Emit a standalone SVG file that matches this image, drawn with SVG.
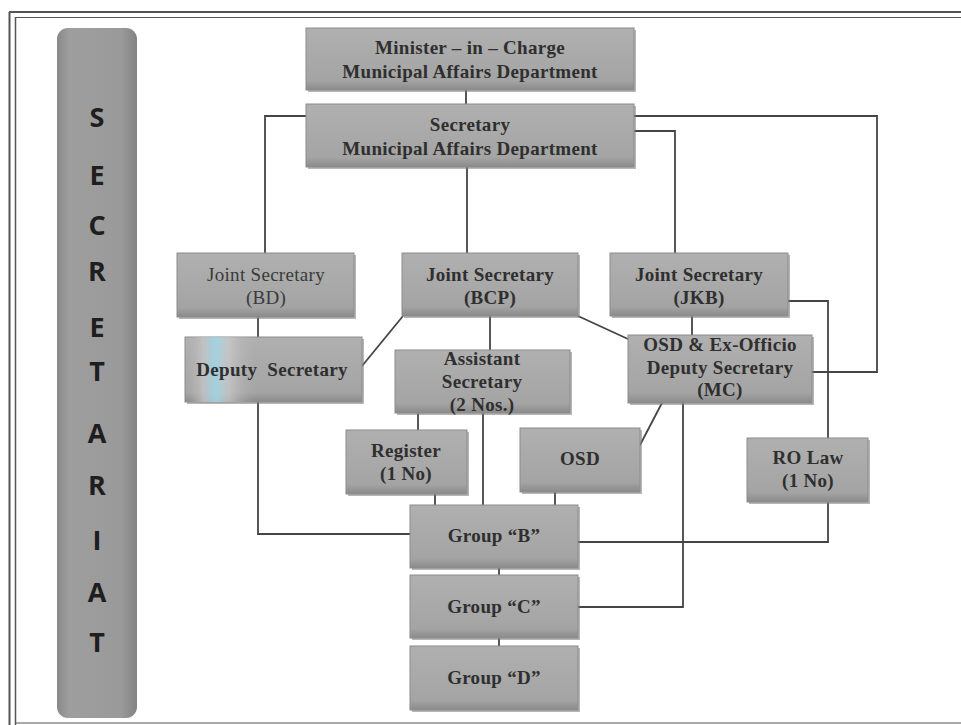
<svg xmlns="http://www.w3.org/2000/svg" width="961" height="725" viewBox="0 0 961 725">
  <defs>
    <linearGradient id="boxg" x1="0" y1="0" x2="0" y2="1">
      <stop offset="0" stop-color="#b0b0b0"/>
      <stop offset="0.85" stop-color="#a4a4a4"/>
      <stop offset="1" stop-color="#8a8a8a"/>
    </linearGradient>
    <linearGradient id="barg" x1="0" y1="0" x2="1" y2="0">
      <stop offset="0" stop-color="#888888"/>
      <stop offset="0.15" stop-color="#9e9e9e"/>
      <stop offset="0.8" stop-color="#9a9a9a"/>
      <stop offset="1" stop-color="#838383"/>
    </linearGradient>
    <linearGradient id="glare" x1="0" y1="0" x2="1" y2="0">
      <stop offset="0" stop-color="#b3b3b3" stop-opacity="0"/>
      <stop offset="0.1" stop-color="#c8c8c8" stop-opacity="0.7"/>
      <stop offset="0.17" stop-color="#9fd6e6" stop-opacity="0.9"/>
      <stop offset="0.25" stop-color="#d2d2d2" stop-opacity="0.6"/>
      <stop offset="0.4" stop-color="#b3b3b3" stop-opacity="0"/>
      <stop offset="1" stop-color="#b3b3b3" stop-opacity="0"/>
    </linearGradient>
  </defs>
  <style>
    .box { fill: url(#boxg); stroke: #8c8c8c; stroke-width: 1; }
    .shadow { fill: #7a7a7a; opacity: 0.55; }
    .t { font-family: "Liberation Serif", "Times New Roman", serif; font-weight: bold; font-size: 19px; letter-spacing: 0.3px; fill: #2f2f2f; text-anchor: middle; }
    .tn { font-family: "Liberation Serif", "Times New Roman", serif; font-size: 19px; letter-spacing: 0.3px; fill: #3a3a3a; text-anchor: middle; }
    .v { font-family: "Open Sans", "Liberation Sans", sans-serif; font-weight: bold; font-size: 27px; fill: #1e1e1e; text-anchor: middle; }
    .c { fill: none; stroke: #454545; stroke-width: 1.8; }
    .frame { stroke: #555; fill: none; }
  </style>

  <rect width="961" height="725" fill="#ffffff"/>

  <!-- frame -->
  <g id="frame">
    <line class="frame" x1="9" y1="12" x2="961" y2="12" stroke-width="2"/>
    <line class="frame" x1="15" y1="17.5" x2="961" y2="17.5" stroke-width="1.2" stroke="#888"/>
    <line class="frame" x1="9.5" y1="12" x2="9.5" y2="725" stroke-width="2"/>
    <line class="frame" x1="15.5" y1="17" x2="15.5" y2="725" stroke-width="1.5"/>
    <line class="frame" x1="15" y1="723" x2="961" y2="723" stroke-width="1" stroke="#bbb"/>
  </g>

  <!-- Secretariat bar -->
  <g id="secretariat">
    <rect x="57" y="28" width="80" height="690" rx="11" fill="url(#barg)"/>
    <text class="v" x="97" y="127">S</text>
    <text class="v" x="97" y="185">E</text>
    <text class="v" x="97" y="235">C</text>
    <text class="v" x="97" y="281">R</text>
    <text class="v" x="97" y="337">E</text>
    <text class="v" x="97" y="381">T</text>
    <text class="v" x="97" y="443">A</text>
    <text class="v" x="97" y="495">R</text>
    <text class="v" x="97" y="550">I</text>
    <text class="v" x="97" y="602">A</text>
    <text class="v" x="97" y="652">T</text>
  </g>

  <!-- connectors -->
  <g id="connectors">
    <line class="c" x1="466" y1="90" x2="466" y2="104"/>
    <polyline class="c" points="306,116 265,116 265,253"/>
    <line class="c" x1="467" y1="167" x2="467" y2="253"/>
    <polyline class="c" points="634,131 675,131 675,253"/>
    <polyline class="c" points="634,116 877,116 877,372 812,372"/>
    <line class="c" x1="258" y1="317" x2="258" y2="337"/>
    <line class="c" x1="403" y1="316" x2="362" y2="366"/>
    <line class="c" x1="490" y1="316" x2="490" y2="350"/>
    <line class="c" x1="578" y1="316" x2="628" y2="339"/>
    <line class="c" x1="692" y1="316" x2="692" y2="335"/>
    <polyline class="c" points="788,301 828,301 828,438"/>
    <polyline class="c" points="258,402 258,534 410,534"/>
    <line class="c" x1="418" y1="413" x2="418" y2="430"/>
    <line class="c" x1="483" y1="407" x2="483" y2="505"/>
    <line class="c" x1="435" y1="494" x2="435" y2="505"/>
    <line class="c" x1="555" y1="492" x2="555" y2="505"/>
    <line class="c" x1="663" y1="401" x2="640" y2="445"/>
    <polyline class="c" points="683,403 683,607 578,607"/>
    <polyline class="c" points="828,502 828,542 578,542"/>
    <line class="c" x1="499" y1="568" x2="499" y2="575"/>
    <line class="c" x1="499" y1="638" x2="499" y2="646"/>
  </g>

  <g id="minister">
    <rect class="shadow" x="308" y="30" width="328" height="62"/>
    <rect class="box" x="306" y="28" width="328" height="62"/>
    <text class="t" x="470" y="54">Minister – in – Charge</text>
    <text class="t" x="470" y="78">Municipal Affairs Department</text>
  </g>

  <g id="secretary">
    <rect class="shadow" x="308" y="106" width="328" height="63"/>
    <rect class="box" x="306" y="104" width="328" height="63"/>
    <text class="t" x="470" y="131">Secretary</text>
    <text class="t" x="470" y="155">Municipal Affairs Department</text>
  </g>

  <g id="js-bd">
    <rect class="shadow" x="179" y="255" width="177" height="64"/>
    <rect class="box" x="177" y="253" width="177" height="64"/>
    <text class="tn" x="266" y="281">Joint Secretary</text>
    <text class="tn" x="266" y="304">(BD)</text>
  </g>

  <g id="js-bcp">
    <rect class="shadow" x="404" y="255" width="176" height="63"/>
    <rect class="box" x="402" y="253" width="176" height="63"/>
    <text class="t" x="490" y="281">Joint Secretary</text>
    <text class="t" x="490" y="304">(BCP)</text>
  </g>

  <g id="js-jkb">
    <rect class="shadow" x="612" y="255" width="178" height="63"/>
    <rect class="box" x="610" y="253" width="178" height="63"/>
    <text class="t" x="699" y="281">Joint Secretary</text>
    <text class="t" x="699" y="304">(JKB)</text>
  </g>

  <g id="deputy-secretary">
    <rect class="shadow" x="187" y="339" width="177" height="65"/>
    <rect class="box" x="185" y="337" width="177" height="65"/>
    <rect x="185" y="337" width="177" height="65" fill="url(#glare)"/>
    <text class="t" x="272" y="376" xml:space="preserve">Deputy  Secretary</text>
  </g>

  <g id="assistant-secretary">
    <rect class="shadow" x="397" y="352" width="175" height="63"/>
    <rect class="box" x="395" y="350" width="175" height="63"/>
    <text class="t" x="482" y="365">Assistant</text>
    <text class="t" x="482" y="388">Secretary</text>
    <text class="t" x="482" y="411">(2 Nos.)</text>
  </g>

  <g id="osd-ex-officio">
    <rect class="shadow" x="630" y="337" width="184" height="68"/>
    <rect class="box" x="628" y="335" width="184" height="68"/>
    <text class="t" x="720" y="351">OSD &amp; Ex-Officio</text>
    <text class="t" x="720" y="374">Deputy Secretary</text>
    <text class="t" x="720" y="396">(MC)</text>
  </g>

  <g id="register">
    <rect class="shadow" x="348" y="432" width="121" height="64"/>
    <rect class="box" x="346" y="430" width="121" height="64"/>
    <text class="t" x="406" y="457">Register</text>
    <text class="t" x="406" y="480">(1 No)</text>
  </g>

  <g id="osd">
    <rect class="shadow" x="522" y="430" width="120" height="64"/>
    <rect class="box" x="520" y="428" width="120" height="64"/>
    <text class="t" x="580" y="465">OSD</text>
  </g>

  <g id="ro-law">
    <rect class="shadow" x="749" y="440" width="121" height="64"/>
    <rect class="box" x="747" y="438" width="121" height="64"/>
    <text class="t" x="808" y="464">RO Law</text>
    <text class="t" x="808" y="487">(1 No)</text>
  </g>

  <g id="group-b">
    <rect class="shadow" x="412" y="507" width="168" height="63"/>
    <rect class="box" x="410" y="505" width="168" height="63"/>
    <text class="t" x="494" y="542">Group “B”</text>
  </g>

  <g id="group-c">
    <rect class="shadow" x="412" y="577" width="168" height="63"/>
    <rect class="box" x="410" y="575" width="168" height="63"/>
    <text class="t" x="494" y="613">Group “C”</text>
  </g>

  <g id="group-d">
    <rect class="shadow" x="412" y="648" width="168" height="64"/>
    <rect class="box" x="410" y="646" width="168" height="64"/>
    <text class="t" x="494" y="684">Group “D”</text>
  </g>
</svg>
